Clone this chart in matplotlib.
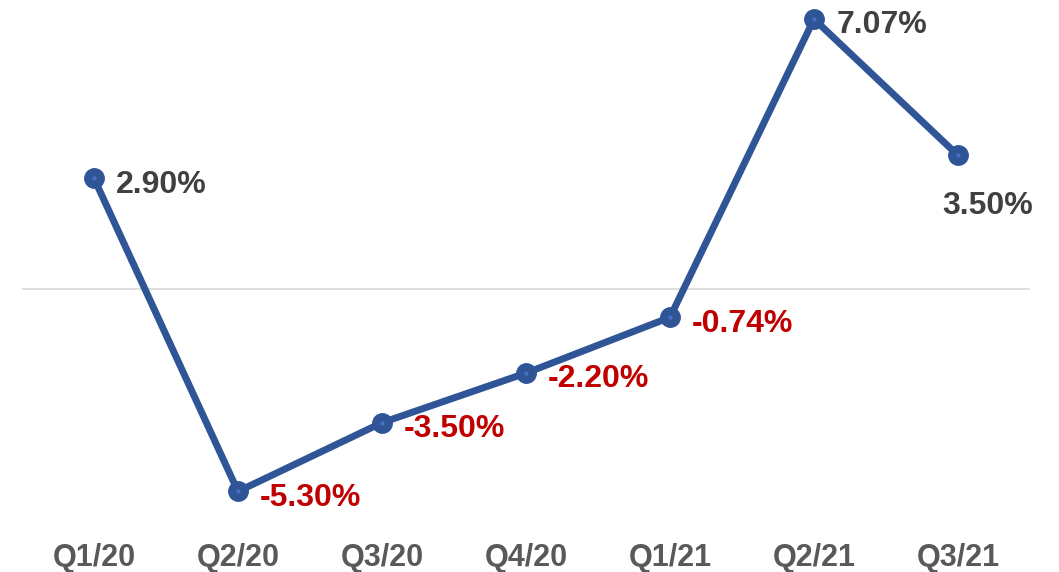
import matplotlib
matplotlib.use('Agg')
import matplotlib.pyplot as plt

plt.rcParams['font.family'] = ['Liberation Sans', 'DejaVu Sans']

quarters = ['Q1/20', 'Q2/20', 'Q3/20', 'Q4/20', 'Q1/21', 'Q2/21', 'Q3/21']
growth = [2.90, -5.30, -3.50, -2.20, -0.74, 7.07, 3.50]
labels = ['2.90%', '-5.30%', '-3.50%', '-2.20%', '-0.74%', '7.07%', '3.50%']

fig = plt.figure(figsize=(10.59, 5.72), dpi=100)
ax = fig.add_axes([22 / 1059, 1 - 530 / 572, 1008 / 1059, 530 / 572])

x = list(range(len(quarters)))
ax.axhline(0, color='#D9D9D9', lw=1.2, zorder=1)
ax.plot(x, growth, color='#2F5597', lw=5, marker='o', ms=14,
        mfc='#2F5597', mec='#2F5597', zorder=3, solid_capstyle='round')
# lighter dot in the middle of each marker
ax.plot(x, growth, ls='none', marker='o', ms=3, mfc='#4472C4', mec='none', zorder=4)

for i, (v, lab) in enumerate(zip(growth, labels)):
    col = '#C00000' if v < 0 else '#404040'
    if i == len(growth) - 1:
        ax.annotate(lab, (i, v), xytext=(21.6, -36.5), textcoords='offset points',
                    ha='center', va='center', fontsize=23, fontweight='bold', color=col)
    else:
        ax.annotate(lab, (i, v), xytext=(16, -4.5), textcoords='offset points',
                    ha='left', va='center', fontsize=23, fontweight='bold', color=col)

ax.set_xlim(-0.5, 6.5)
ax.set_ylim(-6.31, 7.57)
ax.set_xticks(x)
ax.set_xticklabels(quarters, fontsize=22, fontweight='bold', color='#595959')
ax.tick_params(axis='x', length=0, pad=9.5)
ax.set_yticks([])
for s in ax.spines.values():
    s.set_visible(False)

fig.savefig('out.png', dpi=100)
